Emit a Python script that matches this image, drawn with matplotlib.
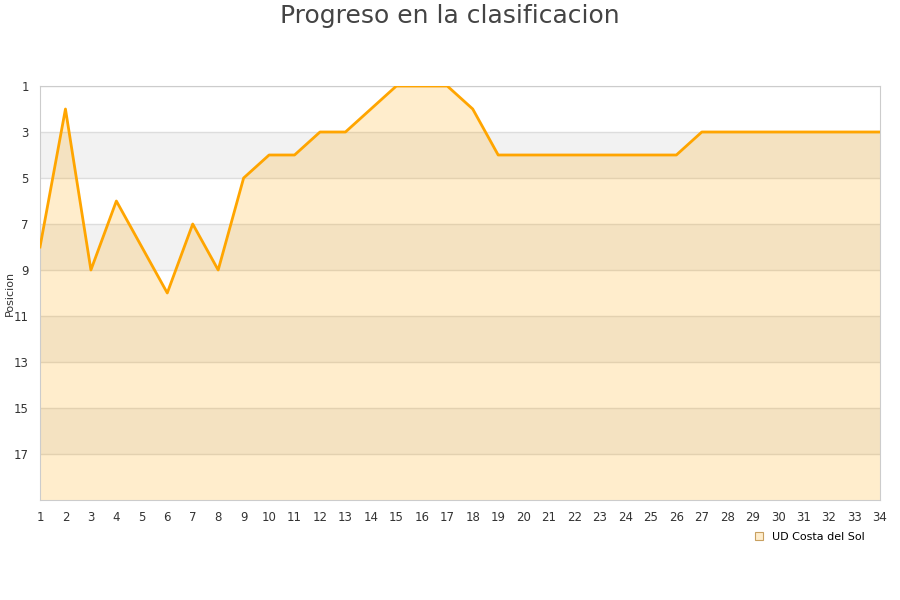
import matplotlib.pyplot as plt
from matplotlib.patches import Patch

# jornada / posicion
jornadas = list(range(1, 35))
posiciones = [8, 2, 9, 6, 8, 10, 7, 9, 5, 4,
              4, 3, 3, 2, 1, 1, 1, 2, 4, 4,
              4, 4, 4, 4, 4, 4, 3, 3, 3, 3,
              3, 3, 3, 3]
equipo = "UD Costa del Sol"
yticks = [1, 3, 5, 7, 9, 11, 13, 15, 17]

fig = plt.figure(figsize=(9, 6), dpi=100)
ax = fig.add_axes([40 / 900, 100 / 600, 840 / 900, 414 / 600])

# bandas alternas de fondo
for i, y0 in enumerate(range(1, 19, 2)):
    if i % 2 == 1:
        ax.axhspan(y0, y0 + 2, color="#f2f2f2", zorder=0, lw=0)
for t in yticks:
    ax.axhline(t, color="#dddddd", lw=1, zorder=1)

ax.fill_between(jornadas, posiciones, 19, color="#ffa500", alpha=0.2, lw=0, zorder=2)
ax.plot(jornadas, posiciones, color="#ffa500", lw=2, zorder=3)

ax.set_xlim(1, 34)
ax.set_ylim(19, 1)
ax.set_yticks(yticks)
ax.set_xticks(jornadas)
ax.tick_params(length=0, labelsize=8.5, colors="#333333", pad=8)
for s in ax.spines.values():
    s.set_color("#cccccc")
ax.set_ylabel("Posicion", fontsize=8, color="#333333")
ax.yaxis.set_label_coords(-0.03, 0.5)

fig.suptitle("Progreso en la clasificacion", fontsize=18, color="#444444", y=0.993)

handle = Patch(facecolor="#ffedcc", edgecolor="#c8a060", lw=0.8)
fig.legend([handle], [equipo], loc="center right", bbox_to_anchor=(0.972, 0.105),
           frameon=False, fontsize=8, handlelength=0.7, handleheight=0.7)

fig.savefig("out.png", dpi=100)
